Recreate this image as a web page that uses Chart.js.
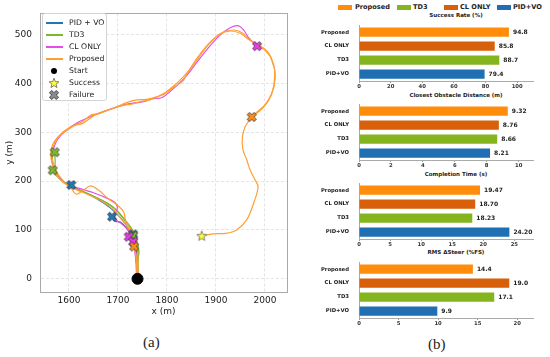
<!DOCTYPE html>
<html>
<head>
<meta charset="utf-8">
<script src="https://cdn.jsdelivr.net/npm/chart.js@4.4.1/dist/chart.umd.min.js"></script>
<style>
  html, body { margin: 0; padding: 0; background: #fff; overflow: hidden; }
  body { width: 550px; height: 357px; position: relative; font-family: "DejaVu Sans", sans-serif; color: #222; }
  canvas { position: absolute; }
  .abs { position: absolute; white-space: nowrap; }
  #trajLegend { left: 42px; top: 13px; width: 65px; height: 88px; border: 1px solid #d4d4d4; border-radius: 3px;
                background: rgba(255,255,255,0.9); box-sizing: border-box; }
  .lgRow { position: absolute; left: 0; height: 10px; font-size: 7.7px; line-height: 10px; }
  .lgLine { position: absolute; left: 3px; top: 4.3px; width: 17px; height: 1.5px; }
  .lgText { position: absolute; left: 26px; top: 0; }
  .barTitle { left: 356px; width: 200px; text-align: center; font-size: 5.5px; font-weight: bold; line-height: 7px; }
  .barLg { font-size: 6.6px; font-weight: bold; line-height: 8px; top: 3px; }
  .barLgBox { top: 4.5px; width: 14px; height: 5px; }
  .caption { font-family: "Liberation Serif", serif; font-size: 15px; }
</style>
</head>
<body>

<canvas id="chartTraj" width="300" height="320" style="left:0;top:0"></canvas>
<div id="trajLegend" class="abs"></div>

<div class="abs barLgBox" style="left:338px;background:#ff8c0a"></div><div class="abs barLg" style="left:355px">Proposed</div>
<div class="abs barLgBox" style="left:397px;background:#84b51f"></div><div class="abs barLg" style="left:413px">TD3</div>
<div class="abs barLgBox" style="left:444px;background:#d9600a"></div><div class="abs barLg" style="left:460px">CL ONLY</div>
<div class="abs barLgBox" style="left:497px;background:#1f6fb2"></div><div class="abs barLg" style="left:513px">PID+VO</div>

<div class="abs barTitle" style="top:11.5px">Success Rate (%)</div>
<div class="abs barTitle" style="top:91.5px">Closest Obstacle Distance (m)</div>
<div class="abs barTitle" style="top:170.5px">Completion Time (s)</div>
<div class="abs barTitle" style="top:248.5px">RMS ΔSteer (%FS)</div>

<canvas id="chartSuccess" width="250" height="71" style="left:300px;top:20px"></canvas>
<canvas id="chartDist" width="250" height="71" style="left:300px;top:99px"></canvas>
<canvas id="chartTime" width="250" height="71" style="left:300px;top:178px"></canvas>
<canvas id="chartSteer" width="250" height="71" style="left:300px;top:257px"></canvas>

<div class="abs caption" style="left:143px;top:334px">(a)</div>
<div class="abs caption" style="left:428px;top:336px">(b)</div>

<script>
// ---------- trajectories (x m, y m) ----------
const pidRun1 = [[1740,0],[1740,30],[1738,58],[1733,80],[1722,102],[1705,125],[1685,145],[1660,162],[1635,175],[1615,184],[1605,192]];
const pidRun2 = [[1740,0],[1739,30],[1737,60],[1730,85],[1718,103],[1705,116],[1694,118],[1688,127]];
const pidRun3 = [[1741,0],[1740,30],[1738,60],[1735,78],[1731,91]];

const td3Run1 = [[1740,0],[1740,30],[1742,55],[1738,80],[1730,100],[1715,120],[1698,140],[1678,155],[1652,168],[1625,180],
                 [1600,192],[1582,205],[1572,222],[1572,240],[1571,259]];
const td3Run2 = [[1741,0],[1741,30],[1740,55],[1736,78],[1728,98],[1712,122],[1692,145],[1668,160],[1640,174],[1612,186],
                 [1590,198],[1575,210],[1567,222]];
const td3Run3 = [[1739,0],[1739,30],[1743,55],[1739,75],[1731,88]];

const clRun1 = [[1739,0],[1738,30],[1735,60],[1728,85],[1720,100],[1708,112],[1697,120],[1693,132],[1699,145],[1694,156],
                [1675,166],[1650,176],[1625,184],[1603,190],[1585,202],[1572,220],[1565,242],[1568,264],[1576,284],
                [1592,302],[1617,319],[1647,333],[1682,346],[1716,357],[1750,362],[1770,368],[1790,371],[1812,388],
                [1837,412],[1859,440],[1884,472],[1910,500],[1930,514],[1945,518],[1956,510],[1966,494],[1984,476]];
const clRun2 = [[1738,0],[1737,30],[1734,58],[1729,74],[1722,86]];
const clRun3 = [[1740,0],[1739,35],[1735,58],[1731,76]];

const propRun1 = [[1741,0],[1741,30],[1740,60],[1737,80],[1730,97],[1716,118],[1712,136],[1700,150],[1680,164],[1661,181],
                  [1644,190],[1629,181],[1615,173],[1604,186],[1589,200],[1575,219],[1567,242],[1567,266],[1576,287],
                  [1596,304],[1612,314],[1628,318],[1655,336],[1688,348],[1722,362],[1740,366],[1758,367],[1778,372],
                  [1795,378],[1815,393],[1832,404],[1840,418],[1860,446],[1883,477],[1907,500],[1930,507],[1950,502],
                  [1968,489],[1990,476],[2010,456],[2016,440],[2020,426],[2016,386],[2000,356],[1976,334],[1960,312],
                  [1954,290],[1955,265],[1963,243],[1970,222],[1980,202],[1986,188],[1977,155],[1963,121],[1942,100],
                  [1920,93],[1894,92],[1871,88]];
const propRun2 = [[1739,0],[1738,30],[1736,55],[1732,80],[1722,102],[1705,125],[1690,142],[1668,158],[1640,172],[1612,184],
                  [1590,196],[1575,212],[1566,235],[1563,255],[1567,275],[1581,294],[1602,310],[1628,322],[1645,335],
                  [1662,338],[1695,351],[1712,355],[1730,358],[1748,363],[1765,366],[1795,380],[1820,400],[1828,408],
                  [1843,424],[1864,455],[1888,484],[1913,504],[1937,509],[1954,503],[1967,490],[1986,479],[2006,464],
                  [2017,440],[2021,410],[2013,376],[1997,351],[1973,331]];
const propRun3 = [[1740,0],[1740,25],[1737,47],[1733,66]];

// ---------- end points ----------
const startPoint = [[1740,0]];
const successPoints = [[1871,88]];
const failPid = [[1605,192],[1688,127],[1731,91]];
const failTd3 = [[1571,259],[1567,222],[1731,88]];
const failCl = [[1984,476],[1722,86],[1731,76]];
const failProp = [[1973,331],[1733,66]];

const trajXTicks = [1600, 1700, 1800, 1900, 2000];
const trajYTicks = [0, 100, 200, 300, 400, 500];

// ---------- bar charts ----------
const methods = ['Proposed', 'CL ONLY', 'TD3', 'PID+VO'];
const successRate = [94.8, 85.8, 88.7, 79.4];
const obstacleDist = [9.32, 8.76, 8.66, 8.21];
const completionTime = [19.47, 18.70, 18.23, 24.20];
const rmsSteer = [14.4, 19.0, 17.1, 9.9];
const successTicks = [0, 20, 40, 60, 80, 100];
const distTicks = [0, 2, 4, 6, 8, 10];
const timeTicks = [0, 5, 10, 15, 20, 25];
const steerTicks = [0, 5, 10, 15, 20];

const COLORS = {
    pid: '#1f77b4', td3: '#7cb82f', cl: '#e64de8', prop: '#ff9f33',
    barProp: '#ff8c0a', barCl: '#d9600a', barTd3: '#84b51f', barPid: '#1f6fb2'
};
const barColors = [COLORS.barProp, COLORS.barCl, COLORS.barTd3, COLORS.barPid];
const FONT = 'DejaVu Sans';

// ---------- marker images ----------
function xMarker(fill) {
    const c = document.createElement('canvas');
    c.width = 12; c.height = 12;
    const g = c.getContext('2d');
    const r = 4.8, w = 0.34;
    const pts = [[w,w],[w,1],[-w,1],[-w,w],[-1,w],[-1,-w],[-w,-w],[-w,-1],[w,-1],[w,-w],[1,-w],[1,w]];
    g.translate(6, 6); g.rotate(Math.PI / 4);
    g.beginPath();
    pts.forEach(([px, py], i) => i ? g.lineTo(px * r, py * r) : g.moveTo(px * r, py * r));
    g.closePath();
    g.fillStyle = fill; g.fill();
    g.lineWidth = 0.8; g.strokeStyle = '#333'; g.stroke();
    return c;
}
function starMarker(fill) {
    const c = document.createElement('canvas');
    c.width = 12; c.height = 12;
    const g = c.getContext('2d');
    g.translate(6, 6.4);
    g.beginPath();
    for (let i = 0; i < 10; i++) {
        const a = -Math.PI / 2 + i * Math.PI / 5;
        const rr = i % 2 ? 2.2 : 5.2;
        i ? g.lineTo(rr * Math.cos(a), rr * Math.sin(a)) : g.moveTo(rr * Math.cos(a), rr * Math.sin(a));
    }
    g.closePath();
    g.fillStyle = fill; g.fill();
    g.lineWidth = 0.7; g.strokeStyle = '#555'; g.stroke();
    return c;
}

const toXY = run => run.map(([x, y]) => ({ x, y }));
function trail(run, color, order) {
    return { data: toXY(run), showLine: true, borderColor: color, borderWidth: 1.2,
             pointRadius: 0, tension: 0.35, order };
}
function marks(pts, style, order, extra) {
    return Object.assign({ data: toXY(pts), showLine: false, pointStyle: style, pointRadius: 5, order }, extra || {});
}

const framePlugin = {
    id: 'frame',
    afterDraw(chart) {
        const { ctx, chartArea: a } = chart;
        ctx.save();
        ctx.strokeStyle = '#aaaaaa'; ctx.lineWidth = 1;
        ctx.strokeRect(Math.round(a.left) + 0.5, Math.round(a.top) + 0.5, Math.round(a.right - a.left), Math.round(a.bottom - a.top));
        ctx.restore();
    }
};

// ============= TRAJECTORIES =============
new Chart(document.getElementById('chartTraj'), {
    type: 'scatter',
    data: {
        datasets: [
            marks(startPoint, 'circle', 0, { pointRadius: 5.5, backgroundColor: '#000', borderColor: '#000' }),
            marks(successPoints, starMarker('#ffff33'), 0),
            marks(failProp, xMarker('#ff8c1a'), 0),
            marks(failCl, xMarker('#e63ce8'), 0),
            marks(failTd3, xMarker('#7cb82f'), 0),
            marks(failPid, xMarker('#1f77b4'), 0),
            trail(propRun1, COLORS.prop, 1), trail(propRun2, COLORS.prop, 1), trail(propRun3, COLORS.prop, 1),
            trail(clRun1, COLORS.cl, 2), trail(clRun2, COLORS.cl, 2), trail(clRun3, COLORS.cl, 2),
            trail(td3Run1, COLORS.td3, 3), trail(td3Run2, COLORS.td3, 3), trail(td3Run3, COLORS.td3, 3),
            trail(pidRun1, COLORS.pid, 4), trail(pidRun2, COLORS.pid, 4), trail(pidRun3, COLORS.pid, 4)
        ]
    },
    options: {
        responsive: false,
        animation: false,
        layout: { padding: { left: 0, right: 13, top: 12, bottom: 0 } },
        plugins: { legend: { display: false }, tooltip: { enabled: false } },
        scales: {
            x: {
                type: 'linear', min: 1541, max: 2045,
                afterBuildTicks: a => { a.ticks = trajXTicks.map(v => ({ value: v })); },
                afterFit: a => { a.height = 28; },
                grid: { color: '#e4e4e4', drawTicks: false },
                border: { display: true, color: '#aaaaaa', dash: [3, 2] },
                ticks: { padding: 3, color: '#222', font: { family: FONT, size: 9 }, callback: v => String(v) },
                title: { display: true, text: 'x (m)', color: '#222', font: { family: FONT, size: 9 }, padding: { top: 0, bottom: 3 } }
            },
            y: {
                type: 'linear', min: -27, max: 543,
                afterBuildTicks: a => { a.ticks = trajYTicks.map(v => ({ value: v })); },
                afterFit: a => { a.width = 40; },
                grid: { color: '#e4e4e4', drawTicks: false },
                border: { display: true, color: '#aaaaaa', dash: [3, 2] },
                ticks: { padding: 8, color: '#222', font: { family: FONT, size: 9 }, callback: v => String(v) },
                title: { display: true, text: 'y (m)', color: '#222', font: { family: FONT, size: 9 }, padding: { top: 4, bottom: 0 } }
            }
        }
    },
    plugins: [framePlugin]
});

// legend of the trajectory plot
const trajLegend = document.getElementById('trajLegend');
const legendItems = [
    { label: 'PID + VO', color: COLORS.pid },
    { label: 'TD3', color: COLORS.td3 },
    { label: 'CL ONLY', color: COLORS.cl },
    { label: 'Proposed', color: COLORS.prop },
    { label: 'Start', dot: true },
    { label: 'Success', img: starMarker('#ffff33') },
    { label: 'Failure', img: xMarker('#8a8a8a') }
];
legendItems.forEach((it, i) => {
    const row = document.createElement('div');
    row.className = 'lgRow';
    row.style.top = (4 + i * 12) + 'px';
    row.style.width = '63px';
    if (it.color) {
        const ln = document.createElement('div');
        ln.className = 'lgLine'; ln.style.background = it.color;
        row.appendChild(ln);
    } else if (it.dot) {
        const d = document.createElement('div');
        d.style.cssText = 'position:absolute;left:8px;top:2px;width:6px;height:6px;border-radius:50%;background:#000';
        row.appendChild(d);
    } else {
        it.img.style.cssText = 'position:absolute;left:5px;top:-1px;width:12px;height:12px';
        row.appendChild(it.img);
    }
    const t = document.createElement('div');
    t.className = 'lgText'; t.textContent = it.label;
    row.appendChild(t);
    trajLegend.appendChild(row);
});

// ============= BAR CHARTS =============
const barValues = {
    id: 'barValues',
    afterDatasetsDraw(chart, args, opts) {
        const ctx = chart.ctx;
        const vals = chart.data.datasets[0].data;
        ctx.save();
        ctx.font = 'bold 6px "' + FONT + '"';
        ctx.fillStyle = '#222';
        ctx.textBaseline = 'middle';
        ctx.textAlign = 'left';
        chart.getDatasetMeta(0).data.forEach((bar, i) => {
            ctx.fillText(vals[i].toFixed(opts.decimals), bar.x + 4, bar.y);
        });
        ctx.restore();
    }
};

function barChart(id, values, max, ticks, decimals) {
    new Chart(document.getElementById(id), {
        type: 'bar',
        data: {
            labels: methods,
            datasets: [{ data: values, backgroundColor: barColors, barPercentage: 0.66, categoryPercentage: 1 }]
        },
        options: {
            indexAxis: 'y',
            responsive: false,
            animation: false,
            layout: { padding: { left: 0, right: 17, top: 0, bottom: 0 } },
            plugins: { legend: { display: false }, tooltip: { enabled: false }, barValues: { decimals } },
            scales: {
                x: {
                    min: 0, max,
                    afterBuildTicks: a => { a.ticks = ticks.map(v => ({ value: v })); },
                    afterFit: a => { a.height = 10; },
                    grid: { display: true, drawOnChartArea: false, drawTicks: true, tickLength: 2, color: '#999' },
                    border: { display: true, color: '#aaaaaa' },
                    ticks: { padding: 0, color: '#333', font: { family: FONT, size: 5.3, weight: 'bold' } }
                },
                y: {
                    afterFit: a => { a.width = 59; },
                    grid: { display: false },
                    border: { display: true, color: '#aaaaaa' },
                    ticks: { padding: 2, color: '#222', font: { family: FONT, size: 5.3, weight: 'bold' } }
                }
            }
        },
        plugins: [barValues]
    });
}

barChart('chartSuccess', successRate, 110, successTicks, 1);
barChart('chartDist', obstacleDist, 10.9, distTicks, 2);
barChart('chartTime', completionTime, 28, timeTicks, 2);
barChart('chartSteer', rmsSteer, 22, steerTicks, 1);
</script>
</body>
</html>
